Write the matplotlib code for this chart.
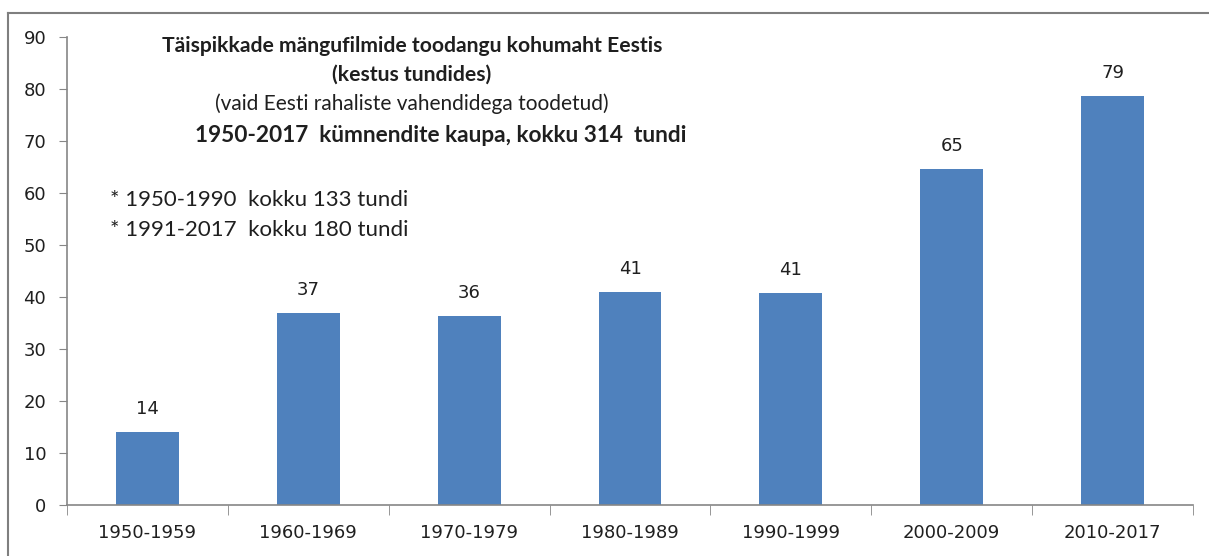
import numpy as np
import matplotlib.pyplot as plt
from matplotlib.lines import Line2D

# Data (hours per decade)
decades = ['1950-1959', '1960-1969', '1970-1979', '1980-1989',
           '1990-1999', '2000-2009', '2010-2017']
hours = [14.1, 36.9, 36.3, 41.0, 40.8, 64.7, 78.6]
yticks = [0, 10, 20, 30, 40, 50, 60, 70, 80, 90]

title_lines = ['Täispikkade mängufilmide toodangu kohumaht Eestis',
               '(kestus tundides)']
subtitle = '(vaid Eesti rahaliste vahendidega toodetud)'
summary = '1950-2017  kümnendite kaupa, kokku 314  tundi'
notes = ['* 1950-1990  kokku 133 tundi', '* 1991-2017  kokku 180 tundi']

bar_color = '#4F81BD'
axis_color = '#868686'
text_color = '#1f1f1f'
tfont = ['Lato', 'DejaVu Sans']
plt.rcParams['font.family'] = ['DejaVu Sans']

fig = plt.figure(figsize=(12.09, 5.56), dpi=100)
ax = fig.add_axes([67 / 1209, 1 - 505 / 556, (1193 - 67) / 1209, (505 - 37) / 556])

x = np.arange(len(decades))
bars = ax.bar(x, hours, width=0.39, color=bar_color, zorder=2)

for xi, h in zip(x, hours):
    ax.annotate(f'{h:.0f}', (xi, h), xytext=(0, 10), textcoords='offset points',
                ha='center', va='bottom', fontsize=13, color=text_color)

ax.set_xlim(-0.5, len(decades) - 0.5)
ax.set_ylim(0, 90)
ax.set_yticks(yticks)
ax.set_xticks(x)
ax.set_xticklabels(decades)
ax.set_xticks(np.arange(-0.5, len(decades)), minor=True)
ax.tick_params(axis='x', which='major', length=0, pad=14, labelsize=13, labelcolor=text_color)
ax.tick_params(axis='x', which='minor', length=7, color=axis_color, direction='out')
ax.tick_params(axis='y', length=6, color=axis_color, pad=9, labelsize=13, labelcolor=text_color)

for side in ['top', 'right']:
    ax.spines[side].set_visible(False)
for side in ['left', 'bottom']:
    ax.spines[side].set_color(axis_color)
    ax.spines[side].set_linewidth(1.2)

# title block
fig.text(412 / 1209, 1 - 46 / 556, title_lines[0], ha='center', va='center',
         fontsize=15.2, fontweight='bold', family=tfont, color=text_color)
fig.text(412 / 1209, 1 - 75 / 556, title_lines[1], ha='center', va='center',
         fontsize=15.2, fontweight='bold', family=tfont, color=text_color)
fig.text(412 / 1209, 1 - 104 / 556, subtitle, ha='center', va='center',
         fontsize=15, family=tfont, color=text_color)
fig.text(441 / 1209, 1 - 135 / 556, summary, ha='center', va='center',
         fontsize=16.3, fontweight='bold', family=tfont, color=text_color)

for i, note in enumerate(notes):
    fig.text(110 / 1209, 1 - (200 + 30 * i) / 556, note, ha='left', va='center',
             fontsize=16, family=tfont, color=text_color)

# outer chart border (top and left edges visible)
fig.add_artist(Line2D([8 / 1209, 1], [1 - 13 / 556, 1 - 13 / 556],
                      transform=fig.transFigure, color='#7f7f7f', lw=1.5))
fig.add_artist(Line2D([8 / 1209, 8 / 1209], [0, 1 - 13 / 556],
                      transform=fig.transFigure, color='#7f7f7f', lw=1.5))

fig.savefig('out.png', dpi=100)
